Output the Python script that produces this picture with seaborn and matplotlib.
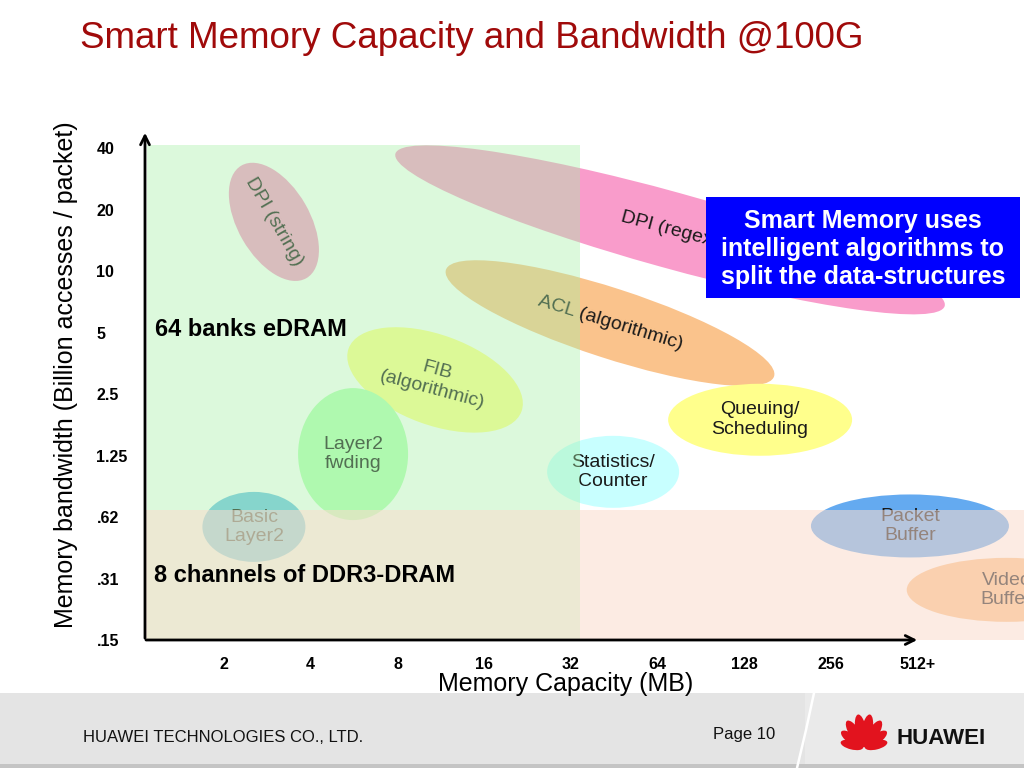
import matplotlib
matplotlib.use("Agg")
import numpy as np
import matplotlib.pyplot as plt
import matplotlib.ticker as mticker
import matplotlib.transforms as mtransforms
from matplotlib.patches import Ellipse, Rectangle
import seaborn as sns

sns.set_theme(style="white")
plt.rcParams['font.family'] = ['Liberation Sans', 'DejaVu Sans']

# Ejes (escala log2 en ambos)
cap_ticks = [2, 4, 8, 16, 32, 64, 128, 256, 512]
cap_labels = ['2', '4', '8', '16', '32', '64', '128', '256', '512+']
bw_ticks = [40, 20, 10, 5, 2.5, 1.25, 0.625, 0.3125, 0.15625]
bw_labels = ['40', '20', '10', '5', '2.5', '1.25', '.62', '.31', '.15']

# Funciones: capacidad (MB) y ancho de banda en el centro de cada elipse
func_names = ['DPI (string)', 'DPI (regex)', 'ACL (algorithmic)', 'FIB\n(algorithmic)',
              'Layer2\nfwding', 'Basic\nLayer2', 'Statistics/\nCounter',
              'Queuing/\nScheduling', 'Packet\nBuffer', 'Video\nBuffer']
func_cap = [2.98, 70.6, 43.7, 10.8, 5.61, 2.54, 44.8, 145, 480, 1040]
func_bw = [17.4, 15.9, 5.56, 2.93, 1.27, 0.559, 1.04, 1.87, 0.565, 0.275]

# Regiones de memoria
edram_cap_max = 34.4
edram_bw_max = 41.4
ddr3_bw_max = 0.677

# Estilo de cada elipse: ancho, alto (px), angulo, color, rotacion del texto
ell_w = [130, 570, 345, 184, 110, 103, 132, 184, 198, 200]
ell_h = [72, 76, 70, 90, 132, 70, 72, 72, 63, 64]
ell_ang = [-60, -15.5, -18, -20, 0, 0, 0, 0, 0, 0]
ell_col = ['#F99CCB', '#F99CCB', '#FAC38C', '#FFFF8C', '#B4FFB4',
           '#70C4E4', '#C8FFFF', '#FFFF8C', '#64AAF0', '#FAC38C']
txt_rot = [-60, -15, -17, -15, 0, 0, 0, 0, 0, 0]

fig = plt.figure(figsize=(10.24, 7.68), dpi=100)

# Fondo de la diapositiva (pie de pagina y logo)
page = fig.add_axes([0, 0, 1, 1], zorder=-1)
page.set_xlim(0, 1024)
page.set_ylim(768, 0)
page.axis('off')
page.add_patch(Rectangle((0, 693), 810, 75, color='#E4E4E4', lw=0))
page.add_patch(Rectangle((805, 693), 219, 75, color='#EAEAEA', lw=0))
page.add_patch(Rectangle((0, 764), 1024, 4, color='#C4C4C4', lw=0))
page.plot([814, 806, 797], [693, 730, 768], color='white', lw=1.8)
page.text(83, 737, 'HUAWEI TECHNOLOGIES CO., LTD.', fontsize=12, va='center', color='#111111')
page.text(713, 735, 'Page 10', fontsize=12, va='center', color='#111111')
for ang, ln, wd in [(10, 33, 11), (32, 31, 11), (54, 27, 10), (76, 23, 9)]:
    for s in (-1, 1):
        a = np.deg2rad(ang * s)
        cx = 864 + np.sin(a) * (ln / 2 + 1)
        cy = 748 - np.cos(a) * (ln / 2 + 1)
        page.add_patch(Ellipse((cx, cy), wd, ln, angle=ang * s, color='#E2131E', lw=0))
page.text(896, 738, 'HUAWEI', fontsize=16, fontweight='bold', va='center', color='#111111')

# Grafico principal
ax = fig.add_axes([145 / 1024, 128 / 768, 879 / 1024, 510 / 768])
ax.set_facecolor('none')
ax.set_xscale('log', base=2)
ax.set_yscale('log', base=2)
ax.set_xlim(1.064, 1194)
ax.set_ylim(0.15625, 49)
for sp in ax.spines.values():
    sp.set_visible(False)

for i in range(len(func_names)):
    trans = fig.dpi_scale_trans + mtransforms.ScaledTranslation(func_cap[i], func_bw[i], ax.transData)
    ax.add_patch(Ellipse((0, 0), ell_w[i] / 100, ell_h[i] / 100, angle=ell_ang[i],
                         transform=trans, facecolor=ell_col[i], lw=0, zorder=1))
    ax.text(func_cap[i], func_bw[i], func_names[i], ha='center', va='center',
            rotation=txt_rot[i], rotation_mode='anchor', multialignment='center',
            fontsize=14, color='#1A1A1A', zorder=1.5)

# Capas semitransparentes de eDRAM y DDR3
ax.axvspan(1.08, edram_cap_max, ymin=0, ymax=np.log2(edram_bw_max / 0.15625) / np.log2(49 / 0.15625),
           color='#A8F0A8', alpha=0.4, lw=0, zorder=2)
ax.axhspan(0.15625, ddr3_bw_max, color='#FADCCD', alpha=0.55, lw=0, zorder=2)

ax.text(0.0114, 0.608, '64 banks eDRAM', transform=ax.transAxes, fontsize=17,
        fontweight='bold', va='center', ha='left', color='black', zorder=3)
ax.text(0.0103, 0.126, '8 channels of DDR3-DRAM', transform=ax.transAxes, fontsize=17,
        fontweight='bold', va='center', ha='left', color='black', zorder=3)

# Recuadro azul
ax.add_patch(Rectangle((0.638, 0.6706), 0.3574, 0.198, transform=ax.transAxes,
                       facecolor='#0000FF', lw=0, zorder=4))
ax.text(0.8168, 0.7667, 'Smart Memory uses\nintelligent algorithms to\nsplit the data-structures',
        transform=ax.transAxes, ha='center', va='center', multialignment='center',
        fontsize=18, fontweight='bold', color='white', zorder=5)

# Flechas de los ejes
ax.annotate('', xy=(0, 1.0), xytext=(0, -0.002), xycoords='axes fraction',
            arrowprops=dict(arrowstyle='->', lw=2, color='black', mutation_scale=16), zorder=6)
ax.annotate('', xy=(0.8817, 0), xytext=(-0.002, 0), xycoords='axes fraction',
            arrowprops=dict(arrowstyle='->', lw=2, color='black', mutation_scale=16), zorder=6)

ax.set_xticks(cap_ticks)
ax.set_xticklabels(cap_labels, fontsize=11.5, fontweight='bold')
ax.set_yticks(bw_ticks)
ax.set_yticklabels(bw_labels, fontsize=11.5, fontweight='bold')
ax.xaxis.set_minor_locator(mticker.NullLocator())
ax.yaxis.set_minor_locator(mticker.NullLocator())
ax.tick_params(axis='x', length=0, pad=12, colors='black')
ax.tick_params(axis='y', length=0, pad=35, colors='black')
for lab in ax.get_yticklabels():
    lab.set_horizontalalignment('left')

ax.set_xlabel('Memory Capacity (MB)', fontsize=18, color='black', va='center')
ax.xaxis.set_label_coords(0.478, -0.086)
ax.set_ylabel('Memory bandwidth (Billion accesses / packet)', fontsize=18, color='black', va='center')
ax.yaxis.set_label_coords(-0.0899, 0.52)

fig.text(80 / 1024, 1 - 38 / 768, 'Smart Memory Capacity and Bandwidth @100G',
         fontsize=26.5, color='#A00A0A', va='center', ha='left')

plt.savefig('out.png', dpi=100)
plt.close()
